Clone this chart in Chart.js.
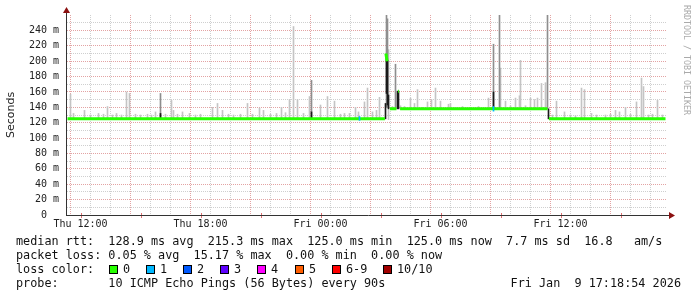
<!DOCTYPE html>
<html>
<head>
<meta charset="utf-8">
<script src="https://cdn.jsdelivr.net/npm/chart.js@4.4.1/dist/chart.umd.min.js"></script>
<style>
  html, body { margin:0; padding:0; background:#fff; }
  #wrap { position:relative; width:697px; height:297px; overflow:hidden; background:#fff; }
  #c { position:absolute; left:0; top:0; }
  .row { position:absolute; left:16px; font-family:"DejaVu Sans Mono", monospace; font-size:11.8px; line-height:14px; white-space:pre; color:#111; }
  .box { position:absolute; width:7px; height:7px; border:1px solid #000; }
  .lbl { position:absolute; font-family:"DejaVu Sans Mono", monospace; font-size:11.8px; line-height:14px; white-space:pre; color:#111; }
  #credit { position:absolute; left:682px; top:5px; writing-mode:vertical-rl; font-family:"DejaVu Sans Mono", monospace; font-size:8.3px; color:#aaa; white-space:pre; }
</style>
</head>
<body>
<div id="wrap">
  <canvas id="c" width="697" height="297"></canvas>
  <div class="row" style="top:234px">median rtt:  128.9 ms avg  215.3 ms max  125.0 ms min  125.0 ms now  7.7 ms sd  16.8   am/s</div>
  <div class="row" style="top:248px">packet loss: 0.05 % avg  15.17 % max  0.00 % min  0.00 % now</div>
  <div class="row" style="top:262px">loss color:</div>
  <div id="lossrow"></div>
  <div class="row" style="top:276px">probe:       10 ICMP Echo Pings (56 Bytes) every 90s</div>
  <div class="lbl" id="stamp" style="top:276px; right:16px">Fri Jan  9 17:18:54 2026</div>
  <div id="credit">RRDTOOL / TOBI OETIKER</div>
</div>
<script>
// ---- data (time in hours since Thu 12:00, values in ms) ----
const xTickHours  = [0, 6, 12, 18, 24];
const xTickLabels = ["Thu 12:00", "Thu 18:00", "Fri 00:00", "Fri 06:00", "Fri 12:00"];

// median rtt (null = break in the line)
const medianT = [-0.65, 15.22, 15.23, 15.27, 15.33, 15.34, 15.38, 15.42, 15.43, 15.47, 15.8, 15.81, 15.88, 15.93, 15.94, 15.98, 23.35, 23.37, 23.42, 29.25];
const medianV = [125,   125,   null,  210,   200,   null,  157,   157,   null,  138,   138,  null,  161,   161,   null,  138,   138,   null,  125,   125];

const smokeT  = [-0.5,-0.35,0.2,0.5,0.9,1.15,1.35,1.6,1.8,2.05,2.3,2.45,2.75,3.0,3.35,3.55,3.75,4.25,4.55,4.65,4.85,5.1,5.45,5.75,6.0,
  6.6,6.85,7.1,7.4,7.65,8.0,8.35,8.6,8.95,9.15,9.5,9.8,10.05,10.25,10.45,10.65,10.85,11.15,11.45,12.0,12.35,12.7,13.0,13.2,13.45,13.75,13.9,
  14.2,14.35,14.6,14.8,14.95,15.4,15.6,16.0,16.2,16.5,16.7,16.85,17.1,17.35,17.55,17.75,18.0,18.4,18.5,18.75,19.1,19.5,19.9,20.4,21.0,21.25,
  21.5,21.75,21.95,22.0,22.25,22.5,22.7,22.85,23.05,23.25,23.6,23.8,24.2,24.5,24.75,25.05,25.2,25.55,25.8,26.25,26.5,26.75,26.95,27.25,27.5,
  27.8,28.05,28.15,28.4,28.6,28.85,29.1];
const smokeHi = [157,132,136,130,132,131,141,130,132,130,160,158,131,130,131,130,134,131,149,136,131,134,132,130,131,
  140,145,136,131,130,131,145,131,139,136,131,132,140,133,150,245,150,132,154,143,154,148,131,132,132,140,134,
  147,165,134,136,153,215,141,142,141,152,145,163,140,147,150,165,148,144,145,140,141,140,141,152,191,148,
  142,152,155,201,142,152,150,152,171,172,130,148,134,130,129,165,163,132,130,130,131,136,134,140,131,
  147,178,167,130,131,149,130];

const midT  = [4.0, 11.55, 15.3, 15.35, 15.75, 20.65, 20.95, 23.35];
const midLo = [125, 125,   140,  140,   138,   138,   138,   138];
const midHi = [158, 175,   260,  255,   196,   222,   260,   260];

const darkT  = [4.0, 11.55, 15.25, 15.3, 15.35, 15.4, 15.85, 15.9, 20.65, 23.4];
const darkLo = [126, 124,   125,   158,  143,   138,  138,   138,  138,   125];
const darkHi = [132, 134,   145,   205,  201,   156,  161,   161,  160,   138];

const loss1T  = [13.95, 20.65];
const loss1Lo = [123,   135];
const loss1Hi = [128,   141];

const lossLabels = ["0", "1", "2", "3", "4", "5", "6-9", "10/10"];
const lossColors = ["#26ff00", "#00b8ff", "#0059ff", "#5e00ff", "#ff00ff", "#ff5e00", "#ff0000", "#a10000"];

// ---- legend boxes ----
const boxX = [109, 146, 183, 220, 257, 295, 332, 383];
const lossRow = document.getElementById('lossrow');
lossLabels.forEach((l, i) => {
  const b = document.createElement('div');
  b.className = 'box';
  b.style.left = boxX[i] + 'px'; b.style.top = '265px'; b.style.background = lossColors[i];
  lossRow.appendChild(b);
  const t = document.createElement('div');
  t.className = 'lbl'; t.textContent = l;
  t.style.left = (boxX[i] + 14) + 'px'; t.style.top = '262px';
  lossRow.appendChild(t);
});

function baseAt(t) { return (t >= 15.45 && t < 23.4) ? 137 : 124; }

const barCommon = { type: 'bar', barThickness: 1, grouped: false, borderWidth: 0, borderSkipped: false };

const axisPlugin = {
  id: 'rrdAxes',
  afterDraw(chart) {
    const ctx = chart.ctx;
    const { left, right, bottom } = chart.chartArea;
    const xs = chart.scales.x;
    ctx.save();
    ctx.strokeStyle = '#e07070';
    ctx.lineWidth = 1;
    for (let h = 0; h <= 29; h += 3) {
      const px = Math.round(xs.getPixelForValue(h)) + 0.5;
      ctx.beginPath(); ctx.moveTo(px, bottom - 2); ctx.lineTo(px, bottom + 3); ctx.stroke();
    }
    ctx.strokeStyle = '#333';
    ctx.beginPath();
    ctx.moveTo(left - 0.5, bottom + 0.5); ctx.lineTo(left - 0.5, 10);
    ctx.moveTo(left - 1, bottom + 0.5); ctx.lineTo(right + 4, bottom + 0.5);
    ctx.stroke();
    ctx.fillStyle = '#8b1010';
    ctx.beginPath();
    ctx.moveTo(left - 4, 13); ctx.lineTo(left + 3, 13); ctx.lineTo(left - 0.5, 7); ctx.closePath(); ctx.fill();
    ctx.beginPath();
    ctx.moveTo(right + 2, bottom - 3); ctx.lineTo(right + 2, bottom + 4); ctx.lineTo(right + 8, bottom + 0.5); ctx.closePath(); ctx.fill();
    ctx.restore();
  }
};

new Chart(document.getElementById('c'), {
  type: 'bar',
  data: {
    datasets: [
      Object.assign({}, barCommon, { order: 4, backgroundColor: '#c4c4c4',
        data: smokeT.map((t, i) => ({ x: t, y: [baseAt(t), smokeHi[i]] })) }),
      Object.assign({}, barCommon, { order: 3, backgroundColor: '#8e8e8e',
        data: midT.map((t, i) => ({ x: t, y: [midLo[i], midHi[i]] })) }),
      Object.assign({}, barCommon, { order: 2, backgroundColor: '#1a1a1a',
        data: darkT.map((t, i) => ({ x: t, y: [darkLo[i], darkHi[i]] })) }),
      { type: 'line', order: 1, borderColor: '#26ff00', borderWidth: 3, pointRadius: 0, tension: 0, fill: false,
        spanGaps: false, borderCapStyle: 'butt',
        data: medianT.map((t, i) => ({ x: t, y: medianV[i] })) },
      Object.assign({}, barCommon, { order: 0, backgroundColor: '#00b8ff',
        data: loss1T.map((t, i) => ({ x: t, y: [loss1Lo[i], loss1Hi[i]] })) })
    ]
  },
  options: {
    responsive: false,
    animation: false,
    events: [],
    layout: { padding: { left: 0, right: 30, top: 15, bottom: 62 } },
    plugins: { legend: { display: false }, tooltip: { enabled: false } },
    scales: {
      x: {
        type: 'linear', offset: false,
        min: -0.675, max: 29.325,
        afterFit(s) { s.height = 20; },
        afterBuildTicks(s) {
          const t = [];
          for (let h = 0; h <= 29; h++) t.push({ value: h });
          s.ticks = t;
        },
        ticks: {
          autoSkip: false, maxRotation: 0, padding: 3,
          font: { family: 'DejaVu Sans Mono', size: 10 }, color: '#222',
          callback(v) { const k = xTickHours.indexOf(v); return k >= 0 ? xTickLabels[k] : ''; }
        },
        grid: {
          drawTicks: false,
          color(ctx) {
            if (!ctx.tick) return 'transparent';
            const v = ctx.tick.value;
            return (v % 3 === 0) ? '#e3a3a3' : '#cfcfcf';
          }
        },
        border: { display: false, dash: [1, 1] }
      },
      y: {
        min: 0, max: 260,
        afterFit(s) { s.width = 67; },
        afterBuildTicks(s) {
          const t = [];
          for (let v = 0; v <= 260; v += 10) t.push({ value: v });
          s.ticks = t;
        },
        ticks: {
          autoSkip: false, padding: 8,
          font: { family: 'DejaVu Sans Mono', size: 10 }, color: '#222',
          callback(v) { if (v === 0) return '0  '; return (v % 20 === 0 && v < 260) ? (v + ' m') : ''; }
        },
        grid: {
          drawTicks: false,
          color(ctx) {
            if (!ctx.tick) return 'transparent';
            const v = ctx.tick.value;
            if (v === 0 || v === 260) return 'transparent';
            return (v % 20 === 0) ? '#e3a3a3' : '#cfcfcf';
          }
        },
        border: { display: false, dash: [1, 1] },
        title: { display: true, text: 'Seconds', font: { family: 'DejaVu Sans', size: 11 }, color: '#222', padding: { top: 5, bottom: 0 } }
      }
    }
  },
  plugins: [axisPlugin]
});
</script>
</body>
</html>
